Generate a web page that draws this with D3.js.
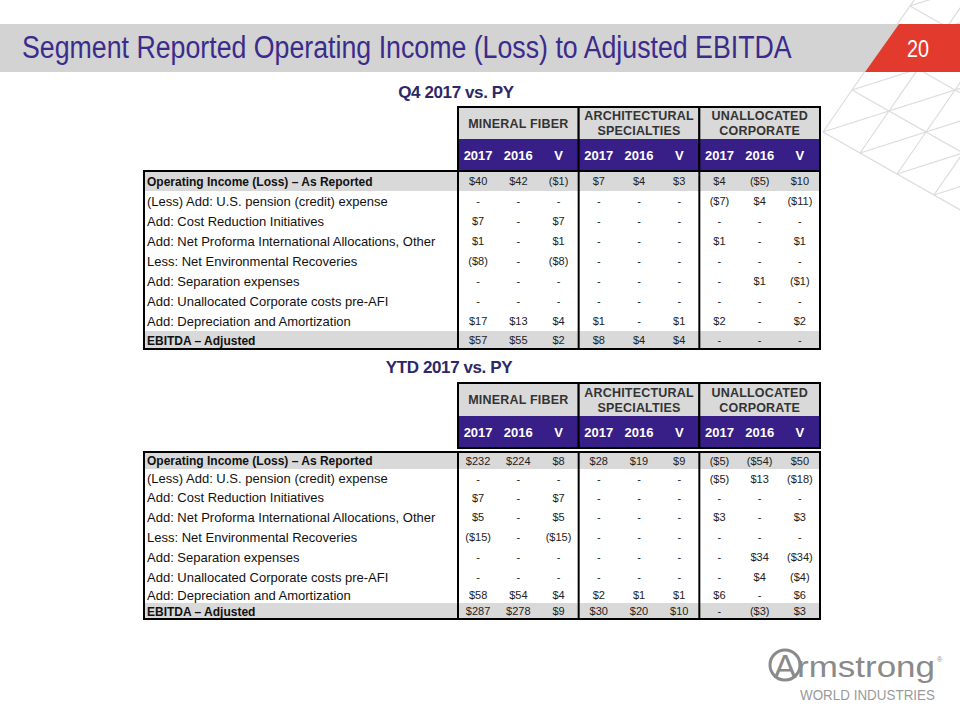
<!DOCTYPE html>
<html><head><meta charset="utf-8">
<script src="https://cdn.jsdelivr.net/npm/d3@7"></script>
<style>body{margin:0;background:#fff} svg{display:block}</style>
</head><body>
<svg id="c" width="960" height="720"></svg>
<script>
// ---------------- data ----------------
const slideTitle = "Segment Reported Operating Income (Loss) to Adjusted EBITDA";
const pageNumber = "20";
const tableTitles = ["Q4 2017 vs. PY", "YTD 2017 vs. PY"];
const segments = [["MINERAL FIBER"], ["ARCHITECTURAL", "SPECIALTIES"], ["UNALLOCATED", "CORPORATE"]];
const periods = ["2017", "2016", "V"];
const rowLabels = [
  "Operating Income (Loss) \u2013 As Reported",
  "(Less) Add: U.S. pension (credit) expense",
  "Add: Cost Reduction Initiatives",
  "Add: Net Proforma International Allocations, Other",
  "Less: Net Environmental Recoveries",
  "Add: Separation expenses",
  "Add: Unallocated Corporate costs pre-AFI",
  "Add: Depreciation and Amortization",
  "EBITDA \u2013 Adjusted"
];
const boldRows = [0, 8];
// columns: MF 2017, MF 2016, MF V, AS 2017, AS 2016, AS V, UC 2017, UC 2016, UC V  (null = "-")
const q4Values = [
  [40, 42, -1, 7, 4, 3, 4, -5, 10],
  [null, null, null, null, null, null, -7, 4, -11],
  [7, null, 7, null, null, null, null, null, null],
  [1, null, 1, null, null, null, 1, null, 1],
  [-8, null, -8, null, null, null, null, null, null],
  [null, null, null, null, null, null, null, 1, -1],
  [null, null, null, null, null, null, null, null, null],
  [17, 13, 4, 1, null, 1, 2, null, 2],
  [57, 55, 2, 8, 4, 4, null, null, null]
];
const ytdValues = [
  [232, 224, 8, 28, 19, 9, -5, -54, 50],
  [null, null, null, null, null, null, -5, 13, -18],
  [7, null, 7, null, null, null, null, null, null],
  [5, null, 5, null, null, null, 3, null, 3],
  [-15, null, -15, null, null, null, null, null, null],
  [null, null, null, null, null, null, null, 34, -34],
  [null, null, null, null, null, null, null, 4, -4],
  [58, 54, 4, 2, 1, 1, 6, null, 6],
  [287, 278, 9, 30, 20, 10, null, -3, 3]
];

// ---------------- style / layout ----------------
const purple = "#381f88";
const titleColor = "#3b2c8c";
const subColor = "#2c2868";
const rowGray = "#d9d9d9";
const fmt = v => v == null ? "-" : (v < 0 ? "($" + Math.abs(v) + ")" : "$" + v);

const svg = d3.select("#c");

// background lattice decoration (top right)
const A = [823, 132], u = [37, 21], v = [29, -42];
const P = (i, j) => [A[0] + i * u[0] + j * v[0], A[1] + i * u[1] + j * v[1]];
const latt = [];
for (let j = 0; j <= 5; j++) latt.push([P(0, j), P(7, j)]);
for (let i = 0; i <= 6; i++) latt.push([P(i, 0), P(i, 6)]);
for (let i = 0; i <= 5; i++) latt.push([P(i, 0), P(i + 5, 5)]);
for (let j = 1; j <= 5; j++) latt.push([P(0, j), P(5, j + 5)]);
svg.append("g").selectAll("line").data(latt).join("line")
  .attr("x1", d => d[0][0]).attr("y1", d => d[0][1])
  .attr("x2", d => d[1][0]).attr("y2", d => d[1][1])
  .attr("stroke", "#dcdcdc").attr("stroke-width", 1.2);

// title band
svg.append("polygon").attr("points", "0,24 899,24 865,72 0,72").attr("fill", "#d3d3d3");
svg.append("polygon").attr("points", "899,24 960,24 960,72 865,72").attr("fill", "#e23b2e");
const fitText = (sel, x, y, w) => {
  const nat = sel.node().getComputedTextLength();
  sel.attr("transform", `translate(${x},${y}) scale(${w / nat},1)`);
};
const tt = svg.append("text").attr("x", 0).attr("y", 0)
  .attr("font-family", "'Liberation Sans',Arial,sans-serif")
  .attr("font-size", 31).attr("fill", titleColor).text(slideTitle);
fitText(tt, 22, 58, 770);
const pn = svg.append("text").attr("x", 0).attr("y", 0)
  .attr("font-family", "'Liberation Sans',Arial,sans-serif")
  .attr("font-size", 24).attr("fill", "#fff").text(pageNumber);
fitText(pn, 907, 57, 22);

// scales shared by both tables
const labelX0 = 144, gx0 = 458, gx1 = 820;
const xGroup = d3.scaleBand().domain(d3.range(segments.length)).range([gx0, gx1]).paddingInner(0).paddingOuter(0);
const xCol = d3.scaleBand().domain(periods).range([0, xGroup.bandwidth()]).paddingInner(0).paddingOuter(0);
const colX = k => xGroup(Math.floor(k / 3)) + xCol(periods[k % 3]) + xCol.bandwidth() / 2;

function drawTable(cfg, values, title) {
  const g = svg.append("g");
  g.append("text").attr("x", cfg.titleX).attr("y", cfg.titleY).attr("text-anchor", "middle")
    .attr("font-family", "'Liberation Sans',Arial,sans-serif").attr("font-weight", "bold")
    .attr("font-size", 17).attr("fill", subColor).attr("letter-spacing", -0.4).text(title);

  // row geometry
  const edges = [cfg.dataTop];
  cfg.rowH.forEach(h => edges.push(edges[edges.length - 1] + h));
  const bottom = edges[edges.length - 1];
  const yRow = i => (edges[i] + edges[i + 1]) / 2;

  // gray highlighted rows
  g.selectAll("rect.hl").data(boldRows).join("rect").attr("class", "hl")
    .attr("x", labelX0).attr("width", gx1 - labelX0)
    .attr("y", i => edges[i]).attr("height", i => edges[i + 1] - edges[i])
    .attr("fill", rowGray);

  // header boxes
  const hTop = cfg.top, hMid = cfg.top + cfg.h1, hBot = hMid + cfg.h2;
  const segG = g.selectAll("g.seg").data(segments).join("g").attr("class", "seg");
  segG.append("rect").attr("x", (d, i) => xGroup(i)).attr("y", hTop)
    .attr("width", xGroup.bandwidth()).attr("height", cfg.h1).attr("fill", rowGray);
  segG.append("rect").attr("x", (d, i) => xGroup(i)).attr("y", hMid)
    .attr("width", xGroup.bandwidth()).attr("height", cfg.h2).attr("fill", purple);
  segG.append("rect").attr("x", (d, i) => xGroup(i)).attr("y", hTop)
    .attr("width", xGroup.bandwidth()).attr("height", hBot - hTop)
    .attr("fill", "none").attr("stroke", "#000").attr("stroke-width", 2);
  segG.each(function (d, i) {
    const n = d.length, cx = xGroup(i) + xGroup.bandwidth() / 2, cy = (hTop + hMid) / 2;
    d3.select(this).selectAll("text.sh").data(d).join("text").attr("class", "sh")
      .attr("x", cx).attr("y", (t, k) => cy + 4.5 + (k - (n - 1) / 2) * 15)
      .attr("text-anchor", "middle").attr("font-family", "'Liberation Sans',Arial,sans-serif")
      .attr("font-weight", "bold").attr("font-size", 12.5).attr("fill", "#333")
      .attr("letter-spacing", 0.2).text(t => t);
  });
  const cols = d3.range(segments.length * periods.length);
  g.selectAll("text.per").data(cols).join("text").attr("class", "per")
    .attr("x", colX).attr("y", (hMid + hBot) / 2 + 5)
    .attr("text-anchor", "middle").attr("font-family", "'Liberation Sans',Arial,sans-serif")
    .attr("font-weight", "bold").attr("font-size", 13).attr("fill", "#fff")
    .text(k => periods[k % 3]);

  // data area borders
  g.append("rect").attr("x", labelX0).attr("y", cfg.dataTop)
    .attr("width", gx1 - labelX0).attr("height", bottom - cfg.dataTop)
    .attr("fill", "none").attr("stroke", "#000").attr("stroke-width", 2);
  g.selectAll("line.sep").data(d3.range(segments.length)).join("line").attr("class", "sep")
    .attr("x1", i => xGroup(i)).attr("x2", i => xGroup(i))
    .attr("y1", cfg.dataTop).attr("y2", bottom)
    .attr("stroke", "#000").attr("stroke-width", 2);

  // row labels
  g.selectAll("text.lab").data(rowLabels).join("text").attr("class", "lab")
    .attr("x", labelX0 + 3).attr("y", (d, i) => yRow(i) + 4.5)
    .attr("font-family", "'Liberation Sans',Arial,sans-serif")
    .attr("font-weight", (d, i) => boldRows.includes(i) ? "bold" : "normal")
    .attr("font-size", (d, i) => boldRows.includes(i) ? 12 : 13)
    .attr("fill", "#111").text(d => d);

  // values
  const cells = [];
  values.forEach((row, i) => row.forEach((val, k) => cells.push({ i, k, val })));
  g.selectAll("text.val").data(cells).join("text").attr("class", "val")
    .attr("x", d => colX(d.k)).attr("y", d => yRow(d.i) + 4)
    .attr("text-anchor", "middle").attr("font-family", "'Liberation Sans',Arial,sans-serif")
    .attr("font-size", 11).attr("fill", "#222").text(d => fmt(d.val));
}

drawTable({ titleX: 456, titleY: 98, top: 107, h1: 32, h2: 32, dataTop: 171,
  rowH: [20, 20, 20, 20, 20, 20, 20, 20, 18] }, q4Values, tableTitles[0]);
drawTable({ titleX: 449, titleY: 373, top: 383, h1: 33, h2: 32, dataTop: 452,
  rowH: [17, 19, 19, 20, 20, 20, 20, 16, 16] }, ytdValues, tableTitles[1]);

// logo
const logo = svg.append("g").attr("fill", "#8a8a8a");
logo.append("circle").attr("cx", 785).attr("cy", 665).attr("r", 15)
  .attr("fill", "none").attr("stroke", "#8a8a8a").attr("stroke-width", 3);
logo.append("text").attr("x", 785).attr("y", 678).attr("text-anchor", "middle")
  .attr("font-family", "'Liberation Sans',Arial,sans-serif").attr("font-size", 34).text("A");
logo.append("text").attr("x", 797).attr("y", 677)
  .attr("font-family", "'Liberation Sans',Arial,sans-serif").attr("font-size", 30)
  .attr("textLength", 138).attr("lengthAdjust", "spacingAndGlyphs").text("rmstrong");
logo.append("text").attr("x", 937).attr("y", 662)
  .attr("font-family", "'Liberation Sans',Arial,sans-serif").attr("font-size", 7).text("\u00ae");
logo.append("text").attr("x", 800).attr("y", 700).attr("fill", "#9a9a9a")
  .attr("font-family", "'Liberation Sans',Arial,sans-serif").attr("font-size", 15)
  .attr("textLength", 135).attr("lengthAdjust", "spacingAndGlyphs").text("WORLD INDUSTRIES");
</script>
</body></html>
